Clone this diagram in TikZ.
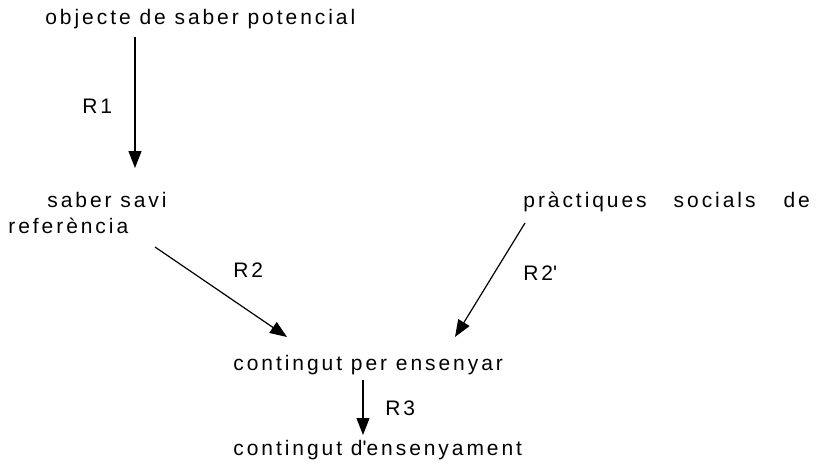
\documentclass[tikz,border=0pt]{standalone}
\usepackage{fontspec}
\setmainfont[LetterSpace=14]{Liberation Sans}
\usetikzlibrary{arrows.meta}

\begin{document}
\begin{tikzpicture}[x=0.5pt,y=-0.5pt,
    txt/.style={anchor=base west,inner sep=0pt,font=\fontsize{10.5}{12}\selectfont},
    arr/.style={line width=0.6pt,-{Triangle[length=8.5pt,width=6.5pt]}}]
    \useasboundingbox (0,0) rectangle (828,465);
    % levels
    \node[txt] (obj) at (45,25) {objecte de saber potencial};
    \node[txt] (savi) at (47,207) {saber savi};
    \node[txt] (ref) at (8,233) {referència};
    \node[txt] (prac) at (523,207) {pràctiques\hspace{13.5pt}socials\hspace{14pt}de};
    \node[txt] (cpe) at (233,370) {contingut per ensenyar};
    \node[txt] (cde) at (233,455) {contingut d\textquotesingle ensenyament};
    % relations
    \node[txt] (r1) at (82,113) {R1};
    \node[txt] (r2) at (233,277) {R2};
    \node[txt] (r2b) at (523,280) {R2\textquotesingle};
    \node[txt] (r3) at (385,415) {R3};
    \draw[arr] ([xshift=45pt,yshift=-6pt]obj.base west) -- ([xshift=44pt,yshift=19.5pt]savi.base west);
    \draw[arr] ([xshift=73.5pt,yshift=-7pt]ref.base west) -- ([xshift=27pt,yshift=16.5pt]cpe.base west);
    \draw[arr] ([xshift=1pt,yshift=-8pt]prac.base west) -- ([xshift=111pt,yshift=16.5pt]cpe.base west);
    \draw[arr] ([xshift=65pt,yshift=-5pt]cpe.base west) -- ([xshift=65pt,yshift=10pt]cde.base west);
\end{tikzpicture}
\end{document}
